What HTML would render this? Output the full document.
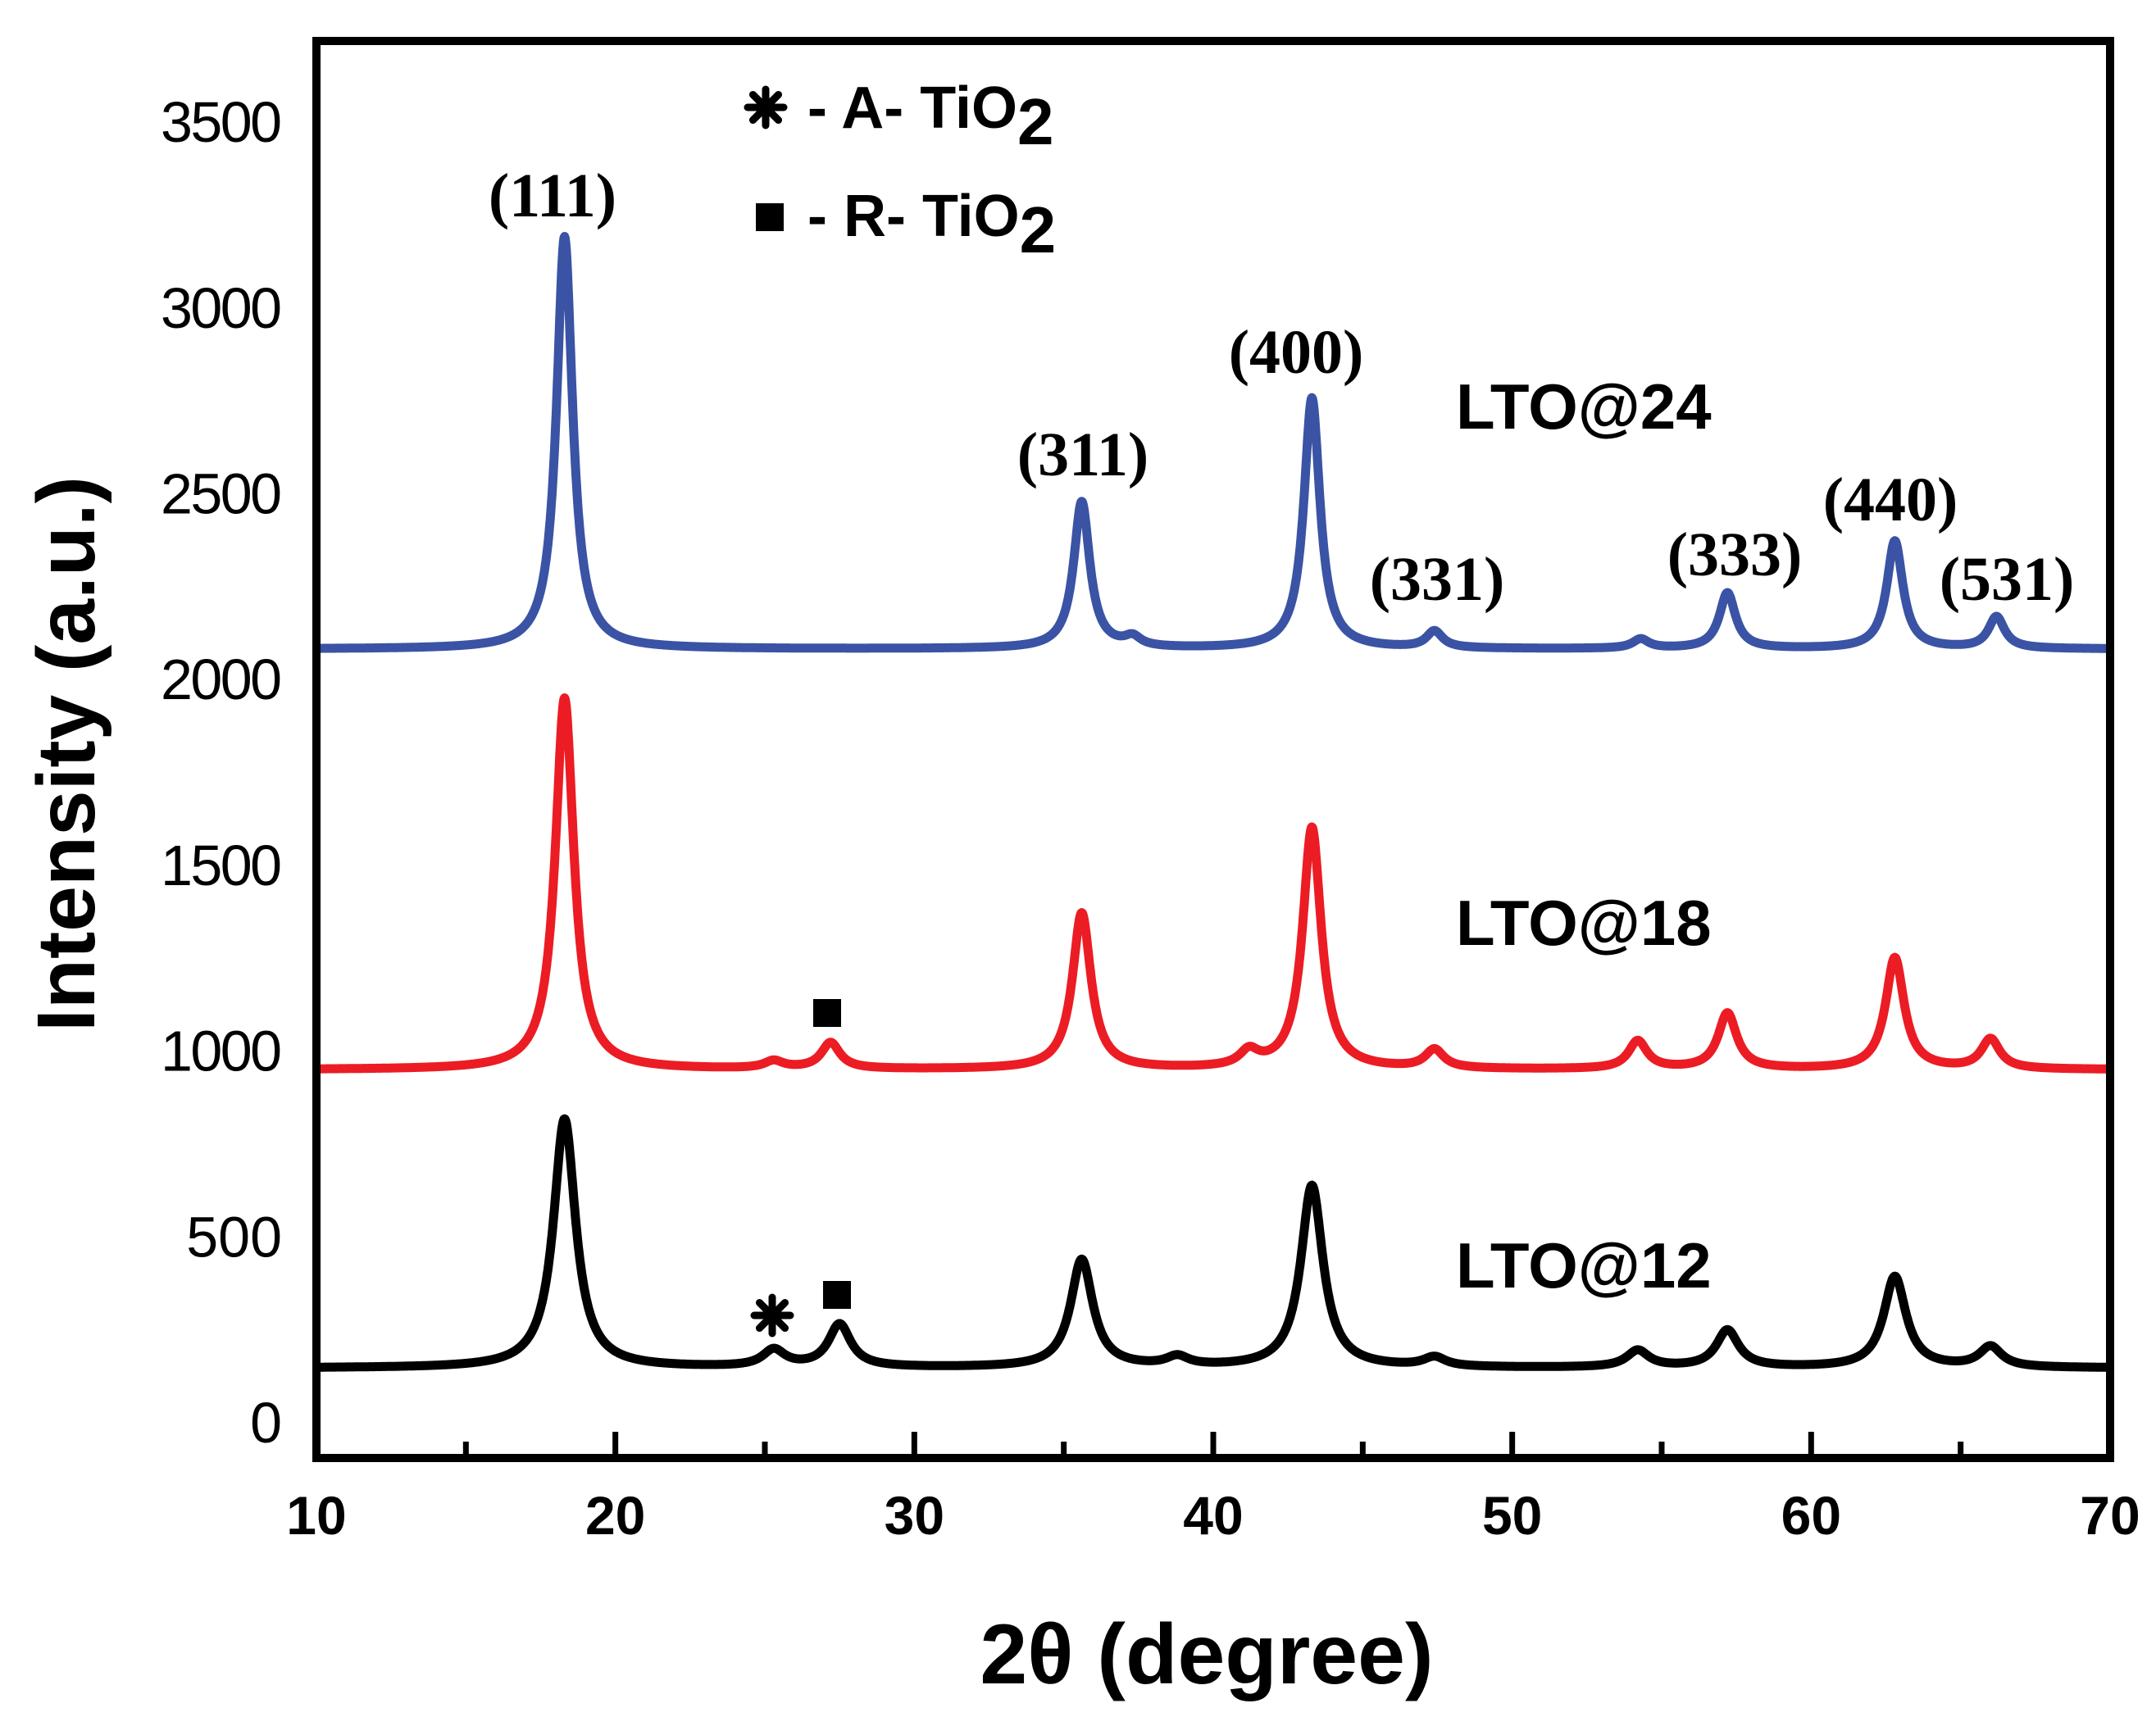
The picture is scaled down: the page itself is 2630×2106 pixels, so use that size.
<!DOCTYPE html>
<html><head><meta charset="utf-8"><style>
html,body{margin:0;padding:0;background:#fff;}
svg{display:block;}
</style></head><body>
<svg id="chart" width="2630" height="2106" viewBox="0 0 2630 2106" xmlns="http://www.w3.org/2000/svg"></svg>
<script>
const xTicks=[10,20,30,40,50,60,70];
const xMinorTicks=[15,25,35,45,55,65];
const yTicks=[0,500,1000,1500,2000,2500,3000,3500];
const series24Pos=[18.3,35.6,37.3,43.3,47.4,54.3,57.2,62.8,66.2];
const series24Height=[1110,395,25,675,45,25,150,290,85];
const series24Base=2080;
const series18Pos=[18.3,25.3,27.2,35.6,41.2,43.3,47.4,54.2,57.2,62.8,66.0];
const series18Height=[1000,20,70,420,40,650,50,75,150,300,80];
const series18Base=948;
const series12Pos=[18.3,25.3,27.5,35.6,38.8,43.3,47.4,54.2,57.2,62.8,66.0];
const series12Height=[670,45,115,290,25,490,25,45,100,245,55];
const series12Base=145;
const millerLabels=["(111)","(311)","(400)","(331)","(333)","(440)","(531)"];

const svg=document.getElementById('chart');
const NS='http://www.w3.org/2000/svg';
const X0=386,X1=2574,Y0=50,Y1=1779;
function sx(v){return X0+(v-10)*(X1-X0)/60;}
function sy(v){return 1735-v*0.4534;}
function mk(tag,attrs,parent){const e=document.createElementNS(NS,tag);for(const k in attrs)e.setAttribute(k,attrs[k]);(parent||svg).appendChild(e);return e;}

function curve(pos,hei,base,w){
  let d='';
  for(let x=10;x<=70.0001;x+=0.02){
    let v=base;
    for(let i=0;i<pos.length;i++){const t=(x-pos[i])/(w/2);v+=hei[i]/(1+t*t);}
    d+=(d?'L':'M')+sx(x).toFixed(1)+','+sy(v).toFixed(1);
  }
  return d;
}
const c12=mk('path',{d:curve(series12Pos,series12Height,series12Base,0.9),fill:'none',stroke:'#000','stroke-width':11,'stroke-linejoin':'round'});


const c18=mk('path',{d:curve(series18Pos,series18Height,series18Base,0.75),fill:'none',stroke:'#ec1c24','stroke-width':11,'stroke-linejoin':'round'});


const c24=mk('path',{d:curve(series24Pos,series24Height,series24Base,0.65),fill:'none',stroke:'#3a53a4','stroke-width':11,'stroke-linejoin':'round'});



const frame=mk('rect',{x:X0,y:Y0,width:X1-X0,height:Y1-Y0,fill:'none',stroke:'#000','stroke-width':10});



xTicks.forEach(t=>{
  if(t>10&&t<70){const l=mk('line',{x1:sx(t),x2:sx(t),y1:Y1,y2:Y1-32,stroke:'#000','stroke-width':7});
  
  }
  const tx=mk('text',{x:sx(t),y:1872,'text-anchor':'middle','font-family':'Liberation Sans, sans-serif','font-weight':'bold','font-size':66});
  tx.textContent=t;
  
  
});
xMinorTicks.forEach(t=>{
  const l=mk('line',{x1:sx(t),x2:sx(t),y1:Y1,y2:Y1-20,stroke:'#000','stroke-width':7});
  
  
});
yTicks.forEach(t=>{
  const tx=mk('text',{x:344,y:sy(t)+25,'text-anchor':'end','font-family':'Liberation Sans, sans-serif','font-size':70,'textLength':148});
  tx.textContent=String(t);
  if(String(t).length<4) tx.removeAttribute('textLength');
  
  
});

function txt(s,x,y,attrs,name){
  const t=mk('text',Object.assign({x:x,y:y},attrs));t.textContent=s;
  
  
  return t;
}
const sans={'font-family':'Liberation Sans, sans-serif','font-weight':'bold'};
txt('2θ (degree)',1472,2054,Object.assign({'font-size':104,'text-anchor':'middle'},sans),'x-axis-title');
txt('Intensity (a.u.)',0,0,Object.assign({'font-size':100,'text-anchor':'middle',transform:'translate(115,920) rotate(-90)'},sans),'y-axis-title');

txt('LTO@24',1776,523,Object.assign({'font-size':78},sans),'label-lto24');
txt('LTO@18',1776,1153,Object.assign({'font-size':78},sans),'label-lto18');
txt('LTO@12',1776,1571,Object.assign({'font-size':78},sans),'label-lto12');

const serif={'font-family':'Liberation Serif, serif','font-weight':'bold','font-size':76,'text-anchor':'middle'};
const mx=[674,1321,1581,1753,2116,2306,2448];
const my=[264,580,455,732,702,635,732];
millerLabels.forEach((s,i)=>txt(s,mx[i],my[i],serif,'miller-index-label'));

function asterisk(cx,cy,r,name){
  const g=mk('g',{stroke:'#000','stroke-width':9,'stroke-linecap':'round'});
  
  
  for(let a=0;a<4;a++){const ang=a*Math.PI/4;mk('line',{x1:cx-r*Math.cos(ang),y1:cy-r*Math.sin(ang),x2:cx+r*Math.cos(ang),y2:cy+r*Math.sin(ang)},g);}
}
function square(cx,cy,s,name){
  const r=mk('rect',{x:cx-s/2,y:cy-s/2,width:s,height:s,fill:'#000'});
  
  
}
asterisk(934,131,22,'legend-anatase-marker');
const l1=txt('- A- TiO',985,156,Object.assign({'font-size':72},sans),'legend-anatase-text');
const s1=mk('tspan',{dy:20,'font-size':80},l1);s1.textContent='2';
square(939,265,34,'legend-rutile-marker');
const l2=txt('- R- TiO',985,288,Object.assign({'font-size':72},sans),'legend-rutile-text');
const s2=mk('tspan',{dy:20,'font-size':80},l2);s2.textContent='2';

square(1009,1236,34,'rutile-marker-lto18');
asterisk(942,1605,22,'anatase-marker-lto12');
square(1021,1580,34,'rutile-marker-lto12');
</script>
</body></html>
